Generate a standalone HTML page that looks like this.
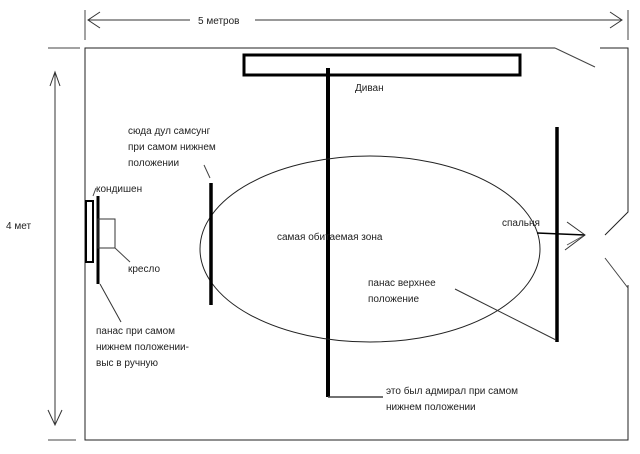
<!DOCTYPE html>
<html><head><meta charset="utf-8"><style>
html,body{margin:0;padding:0;background:#fff;}
svg{display:block;}
text{font-family:"Liberation Sans",sans-serif;font-size:10px;fill:#222;}
</style></head><body>
<svg width="640" height="454" viewBox="0 0 640 454" xmlns="http://www.w3.org/2000/svg">
<g stroke="#000" fill="none" stroke-width="1">
<!-- top dimension -->
<line x1="85" y1="10" x2="85" y2="40" stroke="#444"/>
<line x1="628" y1="10" x2="628" y2="40" stroke="#444"/>
<line x1="88" y1="20" x2="190" y2="20" stroke="#333"/>
<line x1="255" y1="20" x2="622" y2="20" stroke="#333"/>
<polyline points="100,12 88,20 100,28" stroke="#333"/>
<polyline points="610,12 622,20 610,28" stroke="#333"/>
<!-- left dimension -->
<line x1="48" y1="48" x2="80" y2="48" stroke="#444"/>
<line x1="48" y1="440" x2="76" y2="440" stroke="#444"/>
<line x1="55" y1="72" x2="55" y2="425" stroke="#333"/>
<polyline points="50,86 55,72 60,86" stroke="#333"/>
<polyline points="48,410 55,425 62,410" stroke="#333"/>
<!-- room -->
<polyline points="555,48 85,48 85,440 628,440 628,285" stroke="#222"/>
<line x1="555" y1="48" x2="595" y2="67" stroke="#444"/>
<polyline points="600,48 628,48 628,212 605,235" stroke="#222"/>
<line x1="605" y1="258" x2="628" y2="288" stroke="#444"/>
<!-- sofa -->
<rect x="244" y="55" width="276" height="20" stroke-width="3"/>
<line x1="328" y1="68" x2="328" y2="397" stroke-width="4"/>
<line x1="328" y1="397" x2="383" y2="397" stroke="#444" stroke-width="1.5"/>
<!-- ellipse -->
<ellipse cx="370" cy="249" rx="170" ry="93" stroke="#222"/>
<!-- samsung -->
<line x1="211" y1="183" x2="211" y2="305" stroke-width="3.5"/>
<line x1="204" y1="165" x2="210" y2="178" stroke="#444"/>
<!-- right line -->
<line x1="557" y1="127" x2="557" y2="342" stroke-width="3.5"/>
<line x1="455" y1="289" x2="556" y2="340" stroke="#333"/>
<line x1="537" y1="233" x2="585" y2="235" stroke-width="1.5"/>
<polyline points="567,222 585,235 565,250" stroke="#333"/>
<line x1="567" y1="245" x2="583" y2="236" stroke="#555"/>
<!-- left -->
<rect x="86" y="201" width="7" height="61" stroke-width="2"/>
<line x1="98" y1="196" x2="98" y2="284" stroke-width="3"/>
<rect x="98" y="219" width="17" height="29" stroke="#333"/>
<line x1="115" y1="248" x2="130" y2="262" stroke="#444"/>
<line x1="100" y1="284" x2="121" y2="322" stroke="#333"/>
<line x1="93" y1="196" x2="96" y2="188" stroke="#444"/>
</g>
<text x="198" y="24">5 метров</text>
<text x="6" y="229">4 мет</text>
<text x="355" y="91">Диван</text>
<text x="128" y="134">сюда дул самсунг</text>
<text x="128" y="150">при самом нижнем</text>
<text x="128" y="166">положении</text>
<text x="96" y="192">кондишен</text>
<text x="128" y="272">кресло</text>
<text x="277" y="240">самая обитаемая зона</text>
<text x="502" y="226">спальня</text>
<text x="368" y="286">панас верхнее</text>
<text x="368" y="302">положение</text>
<text x="96" y="334">панас при самом</text>
<text x="96" y="350">нижнем положении-</text>
<text x="96" y="366">выс в ручную</text>
<text x="386" y="394">это был адмирал при самом</text>
<text x="386" y="410">нижнем положении</text>
</svg>
</body></html>
